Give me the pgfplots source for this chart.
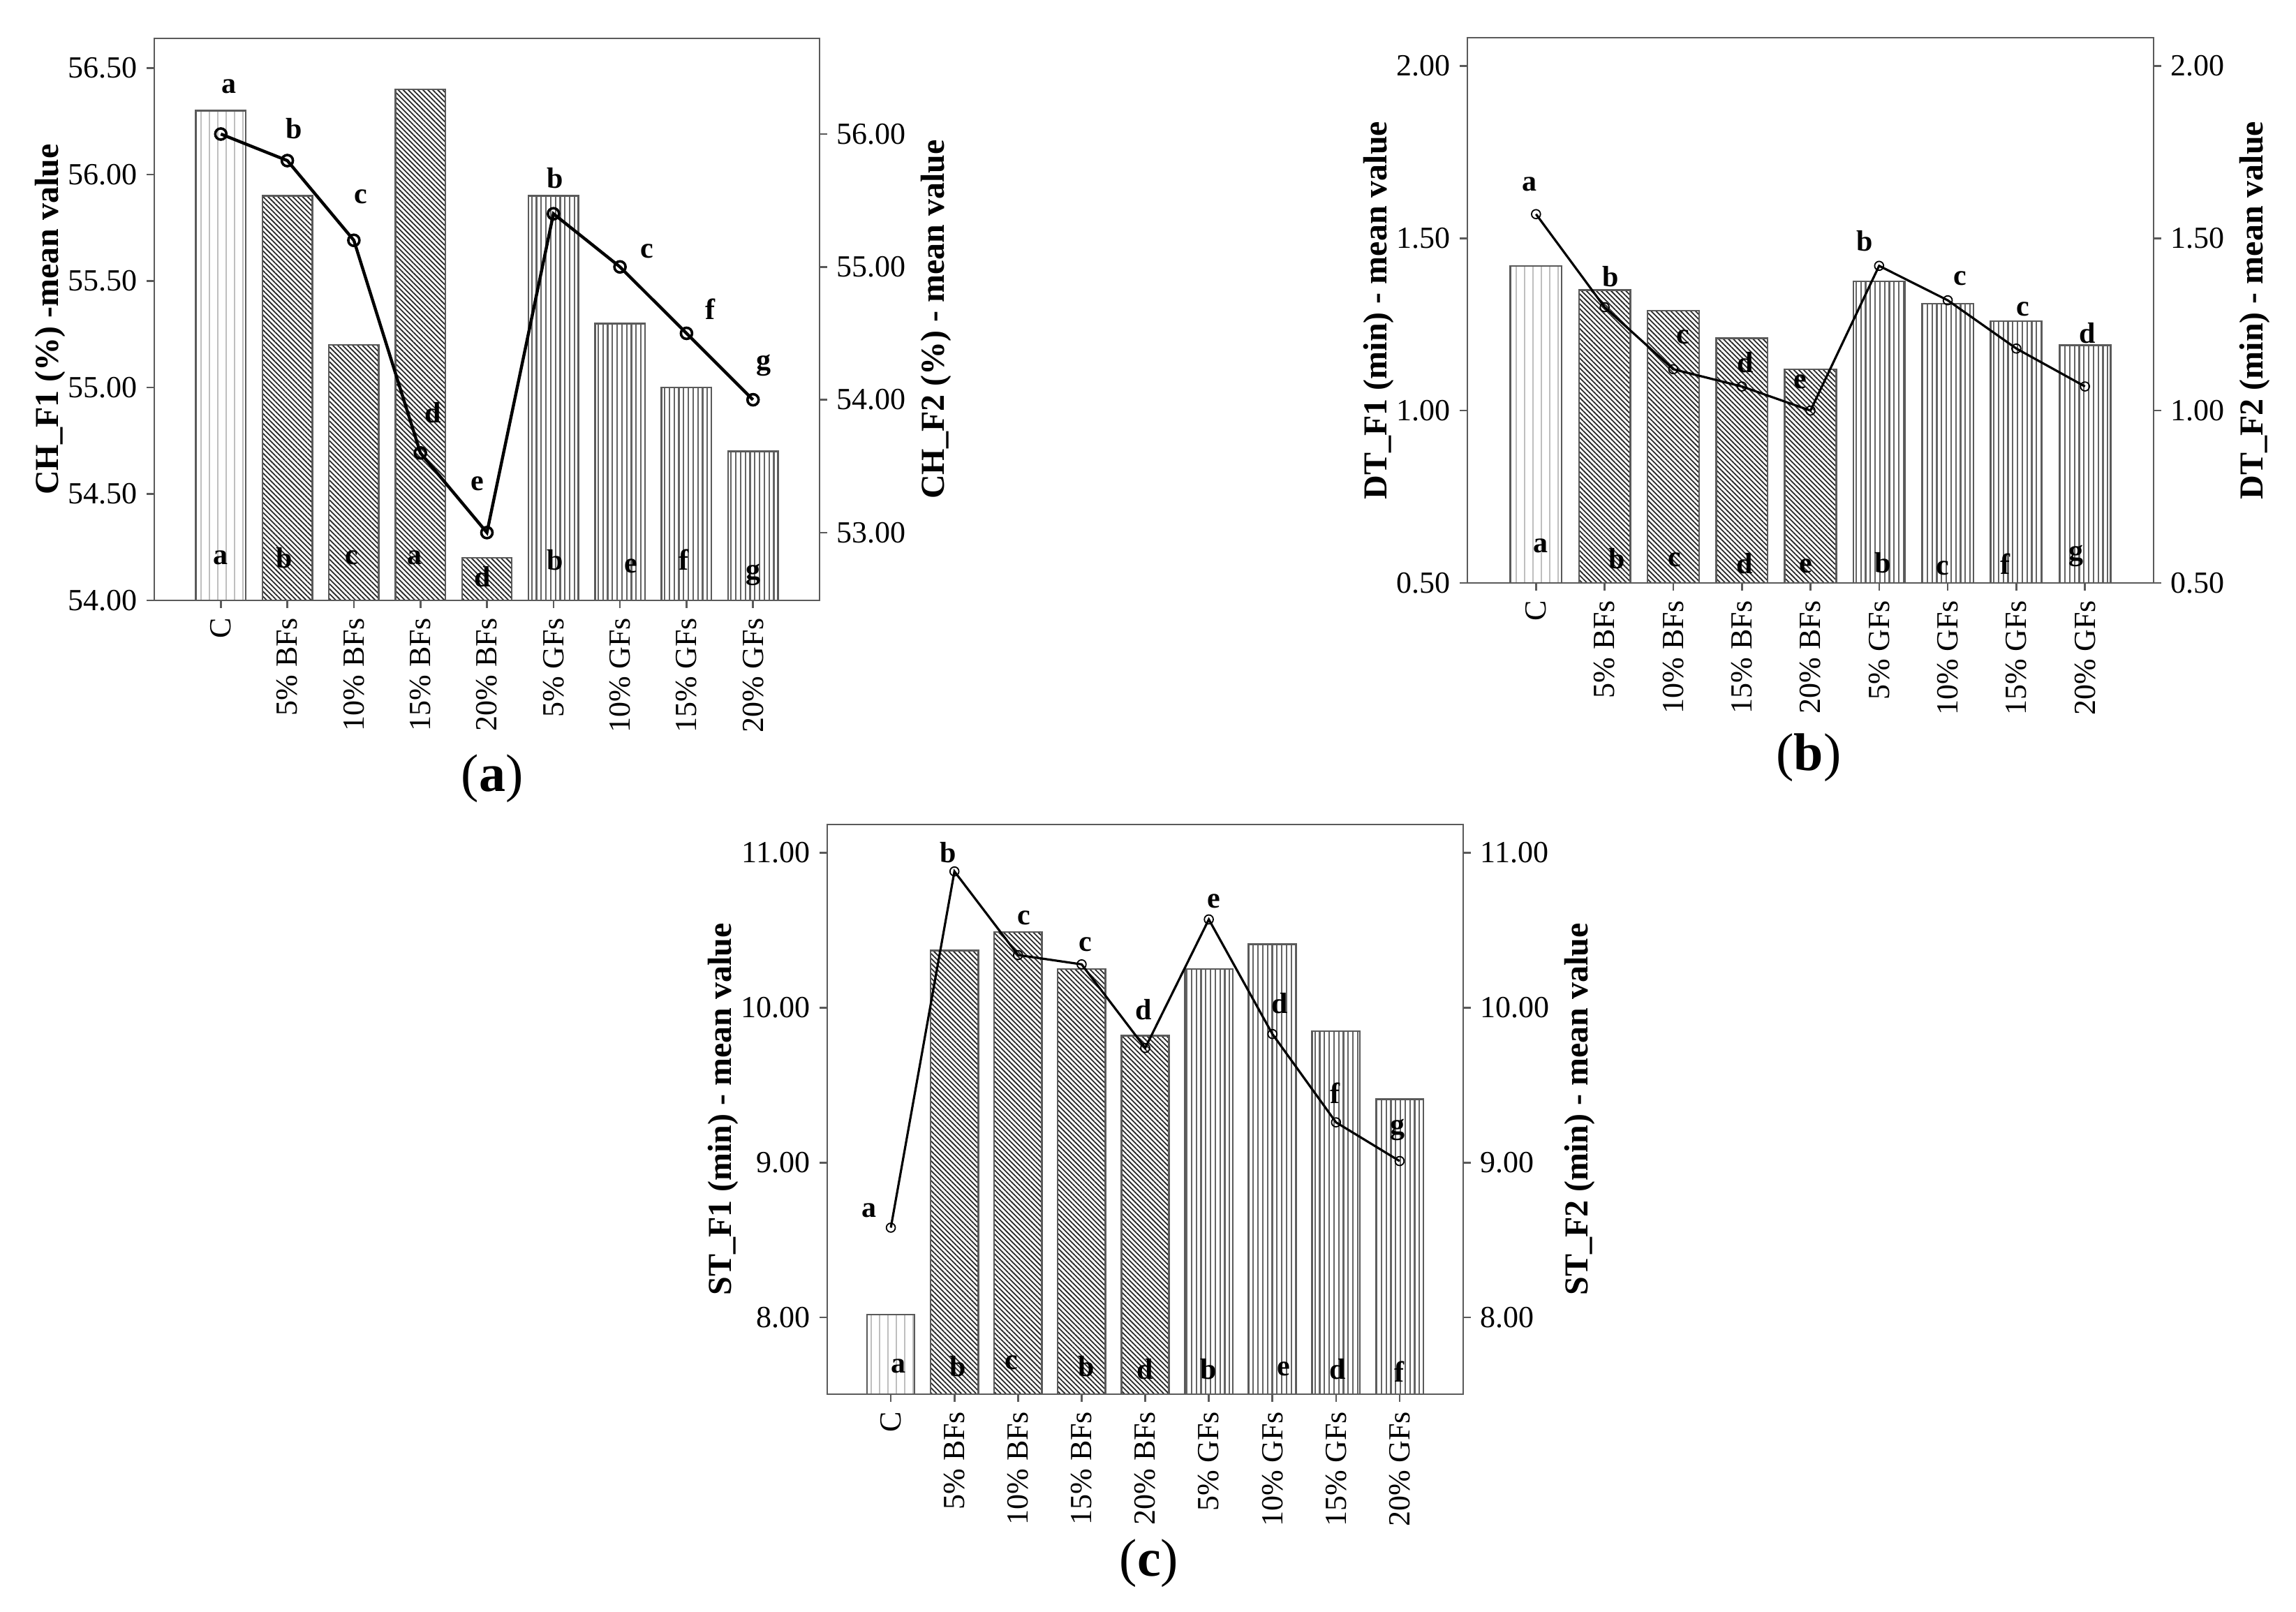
\documentclass[border=0pt]{standalone}
\usepackage{fontspec}
\setmainfont{Liberation Serif}
\usepackage{pgfplots}
\pgfplotsset{compat=1.18}
\usetikzlibrary{patterns.meta}
\definecolor{framegray}{RGB}{90,90,90}
\definecolor{hatchgray}{RGB}{40,40,40}
\definecolor{vgray}{RGB}{100,100,100}
\tikzset{lett/.style={font=\fontsize{10.5}{12}\selectfont\bfseries, inner sep=0pt}}
\pgfplotsset{
  common/.style={
    scale only axis, anchor=south west,
    xmin=-1, xmax=9,
    tick align=outside,
    major tick length=2.7pt,
    axis line style={framegray, line width=0.65pt},
    every tick/.style={framegray, line width=0.65pt},
    yticklabel style={font=\fontsize{11}{13}\selectfont, /pgf/number format/.cd, fixed, fixed zerofill, precision=2, assume math mode=true},
  },
  panel/.style={
    common,
    xtick={0,...,8},
    xticklabels={C,5\% BFs,10\% BFs,15\% BFs,20\% BFs,5\% GFs,10\% GFs,15\% GFs,20\% GFs},
    xticklabel style={rotate=90, anchor=east, font=\fontsize{11}{13}\selectfont},
    xtick pos=bottom, ytick pos=left,
    ylabel style={font=\fontsize{12}{14}\selectfont\bfseries, yshift=-6pt},
  },
  rpanel/.style={
    common,
    axis x line=none, axis y line*=right,
    ylabel style={font=\fontsize{12}{14}\selectfont\bfseries, yshift=1.5pt},
  },
  cbar/.style={ybar, bar width=0.75, bar shift=0pt, draw=framegray, line width=0.6pt,
    pattern={Lines[angle=90, distance=3pt, line width=0.4pt]}, pattern color=lightgray},
  bbar/.style={ybar, bar width=0.75, bar shift=0pt, draw=framegray, line width=0.6pt,
    pattern={Lines[angle=-45, distance=1.25pt, line width=0.45pt]}, pattern color=hatchgray},
  gbar/.style={ybar, bar width=0.75, bar shift=0pt, draw=framegray, line width=0.6pt,
    pattern={Lines[angle=90, distance=1.7pt, line width=0.55pt]}, pattern color=vgray},
  meanline/.style={black, line width=1.1pt, mark=o, mark size=2pt, mark options={fill=white, line width=0.9pt}},
}
\begin{document}
\begin{tikzpicture}
\path[use as bounding box] (0,0) rectangle (822.25pt,577.25pt);

% ---------------- Panel (a) ----------------
\begin{axis}[panel, at={(55.25pt,362.25pt)}, width=238.25pt, height=201.25pt,
  ymin=54, ymax=56.64, ytick={54,54.5,55,55.5,56,56.5},
  ylabel={CH\_F1 (\%) -mean value}]
\addplot[cbar] coordinates {(0,56.30)};
\addplot[bbar] coordinates {(1,55.90) (2,55.20) (3,56.40) (4,54.20)};
\addplot[gbar] coordinates {(5,55.90) (6,55.30) (7,55.00) (8,54.70)};
\node[lett] at (axis cs:0,54.20) {a};
\node[lett] at (axis cs:0.95,54.20) {b};
\node[lett] at (axis cs:1.97,54.20) {c};
\node[lett] at (axis cs:2.91,54.20) {a};
\node[lett] at (axis cs:3.93,54.11) {d};
\node[lett] at (axis cs:5.03,54.19) {b};
\node[lett] at (axis cs:6.16,54.16) {e};
\node[lett] at (axis cs:6.96,54.19) {f};
\node[lett] at (axis cs:8,54.12) {g};
\end{axis}
\begin{axis}[rpanel, at={(55.25pt,362.25pt)}, width=238.25pt, height=201.25pt,
  ymin=52.49, ymax=56.72, ytick={53,54,55,56},
  ylabel={CH\_F2 (\%) - mean value}]
\addplot[meanline] coordinates {(0,56.00) (1,55.80) (2,55.20) (3,53.60) (4,53.00) (5,55.40) (6,55.00) (7,54.50) (8,54.00)};
\node[lett] at (axis cs:0.12,56.36) {a};
\node[lett] at (axis cs:1.1,56.04) {b};
\node[lett] at (axis cs:2.1,55.53) {c};
\node[lett] at (axis cs:3.19,53.90) {d};
\node[lett] at (axis cs:3.86,53.37) {e};
\node[lett] at (axis cs:5.03,55.67) {b};
\node[lett] at (axis cs:6.41,55.12) {c};
\node[lett] at (axis cs:7.36,54.68) {f};
\node[lett] at (axis cs:8.16,54.26) {g};
\end{axis}
\node[font=\fontsize{19}{22}\selectfont] at (176.25pt,298.5pt) {(\textbf{a})};

% ---------------- Panel (b) ----------------
\begin{axis}[panel, at={(525.5pt,368.5pt)}, width=245.75pt, height=195.25pt,
  ymin=0.5, ymax=2.082, ytick={0.5,1,1.5,2},
  ylabel={DT\_F1 (min) - mean value}]
\addplot[cbar] coordinates {(0,1.42)};
\addplot[bbar] coordinates {(1,1.35) (2,1.29) (3,1.21) (4,1.12)};
\addplot[gbar] coordinates {(5,1.375) (6,1.31) (7,1.26) (8,1.19)};
\node[lett] at (axis cs:0.07,0.608) {a};
\node[lett] at (axis cs:1.18,0.571) {b};
\node[lett] at (axis cs:2.02,0.568) {c};
\node[lett] at (axis cs:3.04,0.556) {d};
\node[lett] at (axis cs:3.93,0.549) {e};
\node[lett] at (axis cs:5.05,0.559) {b};
\node[lett] at (axis cs:5.93,0.542) {c};
\node[lett] at (axis cs:6.84,0.556) {f};
\node[lett] at (axis cs:7.87,0.579) {g};
\end{axis}
\begin{axis}[rpanel, at={(525.5pt,368.5pt)}, width=245.75pt, height=195.25pt,
  ymin=0.5, ymax=2.082, ytick={0.5,1,1.5,2},
  ylabel={DT\_F2 (min) - mean value}]
\addplot[meanline, line width=0.8pt, mark size=1.6pt, mark options={fill=white, line width=0.45pt}] coordinates {(0,1.57) (1,1.30) (2,1.12) (3,1.07) (4,1.00) (5,1.42) (6,1.32) (7,1.18) (8,1.07)};
\node[lett] at (axis cs:-0.09,1.656) {a};
\node[lett] at (axis cs:1.09,1.389) {b};
\node[lett] at (axis cs:2.14,1.213) {c};
\node[lett] at (axis cs:3.05,1.14) {d};
\node[lett] at (axis cs:3.85,1.084) {e};
\node[lett] at (axis cs:4.79,1.493) {b};
\node[lett] at (axis cs:6.18,1.384) {c};
\node[lett] at (axis cs:7.1,1.295) {c};
\node[lett] at (axis cs:8.04,1.225) {d};
\end{axis}
\node[font=\fontsize{19}{22}\selectfont] at (647.75pt,306pt) {(\textbf{b})};

% ---------------- Panel (c) ----------------
\begin{axis}[panel, at={(296.25pt,78pt)}, width=227.75pt, height=204pt,
  ymin=7.505, ymax=11.183, ytick={8,9,10,11},
  ylabel={ST\_F1 (min) - mean value}]
\addplot[cbar] coordinates {(0,8.02)};
\addplot[bbar] coordinates {(1,10.37) (2,10.49) (3,10.25) (4,9.82)};
\addplot[gbar] coordinates {(5,10.25) (6,10.41) (7,9.85) (8,9.41)};
\node[lett] at (axis cs:0.12,7.685) {a};
\node[lett] at (axis cs:1.05,7.685) {b};
\node[lett] at (axis cs:1.9,7.71) {c};
\node[lett] at (axis cs:3.07,7.685) {b};
\node[lett] at (axis cs:4.0,7.668) {d};
\node[lett] at (axis cs:5.0,7.668) {b};
\node[lett] at (axis cs:6.18,7.668) {e};
\node[lett] at (axis cs:7.03,7.668) {d};
\node[lett] at (axis cs:8.0,7.65) {f};
\end{axis}
\begin{axis}[rpanel, at={(296.25pt,78pt)}, width=227.75pt, height=204pt,
  ymin=7.505, ymax=11.183, ytick={8,9,10,11},
  ylabel={ST\_F2 (min) - mean value}]
\addplot[meanline, line width=0.8pt, mark size=1.6pt, mark options={fill=white, line width=0.45pt}] coordinates {(0,8.58) (1,10.88) (2,10.34) (3,10.28) (4,9.74) (5,10.57) (6,9.83) (7,9.26) (8,9.01)};
\node[lett] at (axis cs:-0.34,8.69) {a};
\node[lett] at (axis cs:0.9,11.0) {b};
\node[lett] at (axis cs:2.09,10.58) {c};
\node[lett] at (axis cs:3.06,10.41) {c};
\node[lett] at (axis cs:3.97,9.99) {d};
\node[lett] at (axis cs:5.08,10.69) {e};
\node[lett] at (axis cs:6.12,10.03) {d};
\node[lett] at (axis cs:6.98,9.45) {f};
\node[lett] at (axis cs:7.97,9.21) {g};
\end{axis}
\node[font=\fontsize{19}{22}\selectfont] at (411.5pt,17.5pt) {(\textbf{c})};
\end{tikzpicture}
\end{document}
